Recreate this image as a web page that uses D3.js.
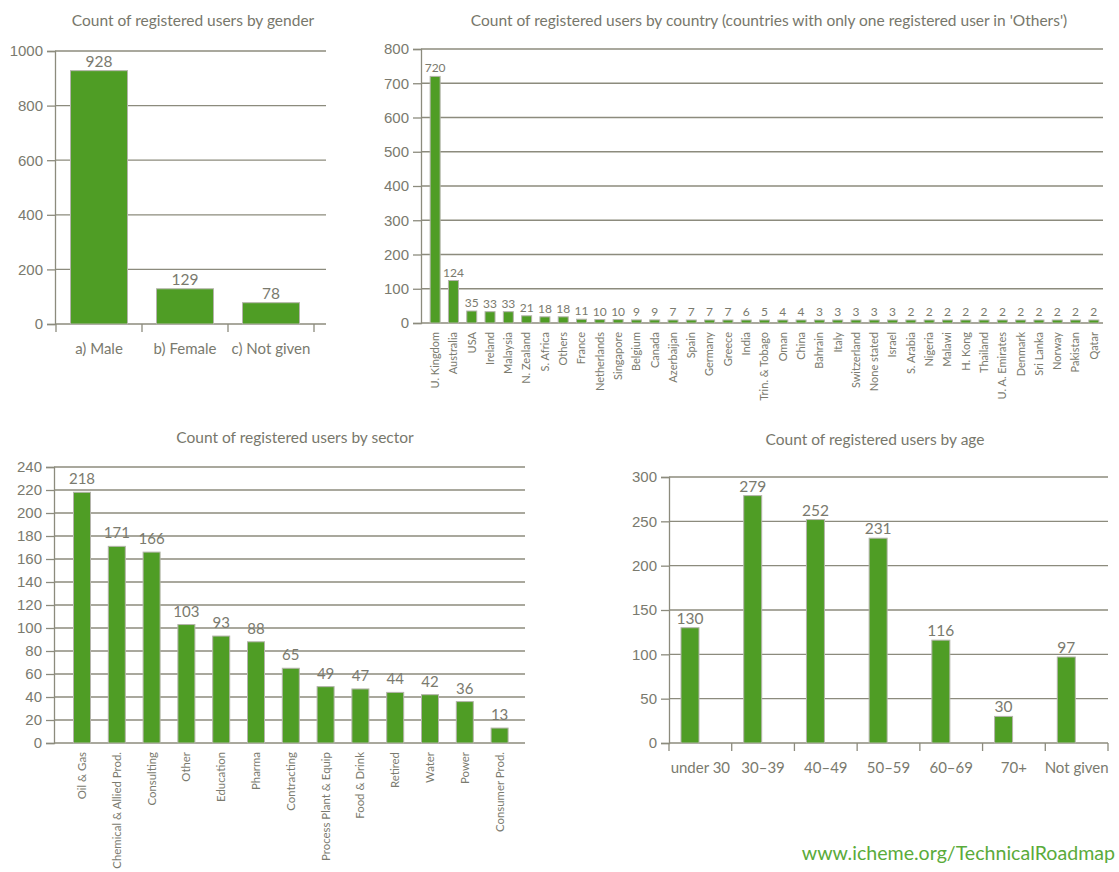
<!DOCTYPE html>
<html>
<head>
<meta charset="utf-8">
<title>Registered users</title>
<script src="https://d3js.org/d3.v7.min.js"></script>
<style>
  body { margin: 0; background: #fff; }
  svg { display: block; font-family: Lato, "Open Sans", sans-serif; }
  .title { font-size: 15.5px; fill: #77776b; }
  .tick text { fill: #7a7a6e; }
  .grid line { stroke: #8c8b7d; stroke-width: 1.3; }
  .axis path, .axis line { stroke: #8c8b7d; stroke-width: 1.3; }
  .bar { fill: #4f9d25; stroke: #b4b4ab; stroke-width: 1; }
  .val { fill: #7a7a6e; text-anchor: middle; }
  .footer { fill: #5aab3a; font-size: 19.6px; text-anchor: end; }
</style>
</head>
<body>
<svg id="chart" width="1119" height="872"></svg>
<script>
// data
const genderCats = ["a) Male", "b) Female", "c) Not given"];
const genderVals = [928, 129, 78];

const countryCats = ["U. Kingdom", "Australia", "USA", "Ireland", "Malaysia", "N. Zealand", "S. Africa", "Others",
  "France", "Netherlands", "Singapore", "Belgium", "Canada", "Azerbaijan", "Spain", "Germany", "Greece", "India",
  "Trin. & Tobago", "Oman", "China", "Bahrain", "Italy", "Switzerland", "None stated", "Israel", "S. Arabia",
  "Nigeria", "Malawi", "H. Kong", "Thailand", "U. A. Emirates", "Denmark", "Sri Lanka", "Norway", "Pakistan", "Qatar"];
const countryVals = [720, 124, 35, 33, 33, 21, 18, 18, 11, 10, 10, 9, 9, 7, 7, 7, 7, 6, 5, 4, 4, 3, 3, 3, 3, 3,
  2, 2, 2, 2, 2, 2, 2, 2, 2, 2, 2];

const sectorCats = ["Oil & Gas", "Chemical & Allied Prod.", "Consulting", "Other", "Education", "Pharma", "Contracting",
  "Process Plant & Equip", "Food & Drink", "Retired", "Water", "Power", "Consumer Prod."];
const sectorVals = [218, 171, 166, 103, 93, 88, 65, 49, 47, 44, 42, 36, 13];

const ageCats = ["under 30", "30\u201339", "40\u201349", "50\u201359", "60\u201369", "70+", "Not given"];
const ageVals = [130, 279, 252, 231, 116, 30, 97];

const svg = d3.select("#chart");

// generic panel
function panel(o) {
  const g = svg.append("g");
  const data = o.cats.map((c, i) => ({ c: c, v: o.vals[i] }));

  const x = d3.scaleBand().domain(o.cats).range([o.x0, o.x1]).paddingInner(0).paddingOuter(0);
  const y = d3.scaleLinear().domain([0, o.ymax]).range([o.y0, o.y1]);

  g.append("text").attr("class", "title")
    .attr("x", o.tx).attr("y", o.ty).attr("text-anchor", "middle").text(o.title);

  // gridlines
  g.append("g").attr("class", "grid")
    .selectAll("line").data(y.ticks(o.nt).filter(t => t > 0)).join("line")
    .attr("x1", o.ax).attr("x2", o.gx).attr("y1", d => y(d)).attr("y2", d => y(d));

  // y axis
  const ya = g.append("g").attr("class", "axis").attr("transform", `translate(${o.ax},0)`)
    .call(d3.axisLeft(y).ticks(o.nt, "d").tickSize(8).tickPadding(4));
  ya.selectAll("text").style("font-size", o.yfs + "px");

  // x baseline
  g.append("line")
    .attr("x1", o.ax).attr("x2", o.gx).attr("y1", o.y0).attr("y2", o.y0)
    .style("stroke", "#8c8b7d").style("stroke-width", 1.3);

  if (o.catTicks) {
    g.append("g").selectAll("line").data(o.cats.concat(["_end"])).join("line")
      .attr("x1", (d, i) => o.x0 + i * x.step()).attr("x2", (d, i) => o.x0 + i * x.step())
      .attr("y1", o.y0).attr("y2", o.y0 + 8)
      .style("stroke", "#8c8b7d").style("stroke-width", 1.3);
  }

  const bw = o.bw;
  const bx = d => x(d.c) + (o.boff != null ? o.boff : (x.bandwidth() - bw) / 2);
  g.selectAll("rect.bar").data(data).join("rect").attr("class", "bar")
    .attr("x", bx)
    .attr("width", bw)
    .attr("y", d => Math.min(y(d.v), o.y0 - o.minH))
    .attr("height", d => Math.max(o.y0 - y(d.v), o.minH));

  g.selectAll("text.val").data(data).join("text").attr("class", "val")
    .attr("x", d => bx(d) + bw / 2)
    .attr("y", d => Math.min(y(d.v), o.y0 - o.minH) - o.voff)
    .style("font-size", o.vfs + "px")
    .text(d => d.v);

  // category labels
  const lab = g.selectAll("text.cat").data(data).join("text").attr("class", "cat")
    .style("fill", "#7a7a6e").style("font-size", o.cfs + "px");
  if (o.rotate) {
    lab.attr("text-anchor", "end")
      .attr("transform", d => `translate(${x(d.c) + x.bandwidth() / 2 + o.cfs * 0.35},${o.y0 + 9}) rotate(-90)`)
      .text(d => d.c);
  } else {
    lab.attr("text-anchor", "middle")
      .attr("x", d => x(d.c) + x.bandwidth() / 2)
      .attr("y", o.y0 + 30)
      .text(d => d.c);
  }
  return g;
}

panel({ cats: genderCats, vals: genderVals, title: "Count of registered users by gender", tx: 193, ty: 26,
  x0: 56, x1: 314, ax: 55, gx: 326, y0: 324, y1: 51, ymax: 1000, nt: 5, bw: 57, minH: 0,
  yfs: 15, vfs: 15.5, voff: 4, cfs: 15, catTicks: true, rotate: false });

panel({ cats: countryCats, vals: countryVals, title: "Count of registered users by country (countries with only one registered user in 'Others')",
  tx: 769, ty: 26,
  x0: 426, x1: 1103, ax: 421, gx: 1103, y0: 323, y1: 49, ymax: 800, nt: 8, bw: 10, minH: 3,
  yfs: 15, vfs: 12, voff: 4, cfs: 11, catTicks: false, rotate: true });

panel({ cats: sectorCats, vals: sectorVals, title: "Count of registered users by sector", tx: 295, ty: 443,
  x0: 64.6, x1: 517, ax: 54, gx: 525, y0: 743, y1: 467, ymax: 240, nt: 12, bw: 17, minH: 0,
  yfs: 15, vfs: 15, voff: 8, cfs: 11.4, catTicks: false, rotate: true });

panel({ cats: ageCats, vals: ageVals, title: "Count of registered users by age", tx: 875, ty: 445,
  x0: 669, x1: 1108, ax: 669, gx: 1108, y0: 743, y1: 477, ymax: 300, nt: 6, bw: 18, boff: 12, minH: 0,
  yfs: 15, vfs: 15.5, voff: 4, cfs: 15, catTicks: true, rotate: false });

svg.append("text").attr("class", "footer").attr("x", 1115).attr("y", 860)
  .text("www.icheme.org/TechnicalRoadmap");
</script>
</body>
</html>
